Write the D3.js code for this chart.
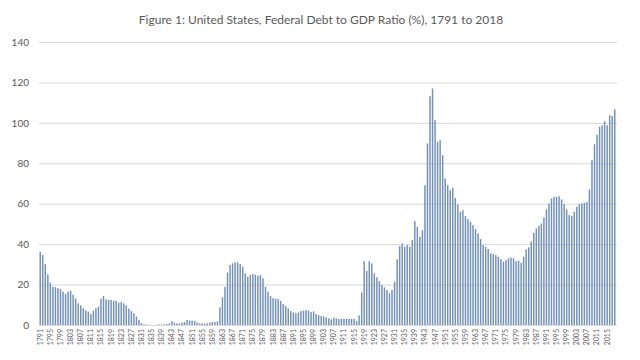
<!DOCTYPE html>
<html>
<head>
<meta charset="utf-8">
<script src="https://cdn.jsdelivr.net/npm/d3@7"></script>
<style>
  html, body { margin: 0; padding: 0; background: #ffffff; }
  svg { display: block; }
</style>
</head>
<body>
<svg id="chart" width="640" height="360"></svg>
<script>
const titleText = "Figure 1: United States, Federal Debt to GDP Ratio (%), 1791 to 2018";
const startYear = 1791;
const endYear = 2018;
const years = d3.range(startYear, endYear + 1);
const tickYears = d3.range(1791, 2019, 4);
const yTicks = [0, 20, 40, 60, 80, 100, 120, 140];

// Debt to GDP ratio (%) by year, 1791..2018
const debtRatio = [
  36.2, 34.6, 30.1, 25.0, 20.9, 18.8, 18.7, 18.2, 17.7, 16.5,
  15.4, 16.5, 17.0, 15.0, 13.1, 10.7, 9.7, 8.3, 7.3, 6.6,
  5.4, 7.1, 8.3, 9.1, 13.0, 14.3, 12.7, 12.4, 12.4, 12.0,
  12.0, 11.0, 11.4, 10.7, 9.7, 8.1, 6.9, 5.8, 4.2, 2.5,
  1.0, 0.3, 0.2, 0.1,
  0.0, 0.0, 0.1, 0.3, 0.3, 0.3, 0.5, 0.8, 2.0, 1.2,
  0.8, 0.8, 1.2, 1.5, 2.5, 2.2, 2.2, 2.0, 1.2, 0.8,
  0.8, 0.6, 0.8, 1.2, 1.5, 1.5, 1.8,
  8.7, 13.7, 18.9, 26.0, 29.7, 30.5, 31.0, 31.0, 30.2, 28.8,
  25.5, 23.9, 24.9, 25.2, 24.9, 24.4, 24.7, 23.1,
  18.9, 16.5, 14.3, 13.2, 13.0, 12.8, 11.9, 10.4, 9.4, 8.2,
  6.9, 6.1, 5.8, 6.3, 6.9, 7.1, 7.4, 7.1, 6.4, 6.7,
  5.4, 4.9, 4.4, 4.3, 3.8, 3.3, 2.8, 3.6, 3.3, 3.0,
  3.0, 3.0, 3.0, 3.0, 3.0, 3.0, 2.0, 4.8,
  16.1, 31.6, 26.7, 31.6, 30.5, 25.5, 23.6, 21.7, 19.8, 18.6,
  17.3, 15.7, 17.3, 21.4, 32.5, 39.0, 40.3, 38.7, 39.5, 38.7,
  42.0, 51.4, 48.6, 43.6, 46.9, 69.2, 89.8, 113.2,
  117.0, 101.3, 90.6, 91.4, 84.0, 72.5, 69.2, 66.7, 67.9, 62.9,
  59.6, 56.0, 56.8, 53.9, 52.4, 51.1, 49.4, 47.4, 45.3, 42.5,
  39.5, 38.7, 37.6, 35.4, 35.1, 34.6,
  33.8, 32.6, 31.3, 32.1, 33.0, 33.4, 33.0, 31.6, 31.8, 30.8,
  33.8, 37.4, 38.4, 41.3, 45.6, 47.8, 49.1, 50.2, 53.2, 57.2,
  60.1, 62.6, 63.4, 63.4, 63.7, 62.1, 59.8, 57.2, 54.4, 53.9,
  56.0, 58.5, 59.8, 60.1, 60.5, 60.9, 67.1, 81.5, 89.4, 94.1,
  98.0, 98.8, 100.8, 98.8, 103.8, 103.4, 106.7
];

const data = years.map((yr, i) => ({ year: yr, value: debtRatio[i] }));

const svg = d3.select("#chart");
const margin = { left: 39, right: 24, top: 42, bottom: 35 };
const W = 640, H = 360;

const x = d3.scaleBand()
  .domain(years)
  .range([margin.left, W - margin.right])
  .paddingInner(0.42)
  .paddingOuter(0.2);

const y = d3.scaleLinear()
  .domain([0, 140])
  .range([H - margin.bottom, margin.top]);

const fontFam = "Lato, 'Open Sans', sans-serif";
const textCol = "#595959";

// Title
svg.append("text")
  .attr("x", 321)
  .attr("y", 24)
  .attr("text-anchor", "middle")
  .attr("font-family", fontFam)
  .attr("font-size", 12)
  .attr("fill", textCol)
  .text(titleText);

// Gridlines + y labels via axis
const yAxis = d3.axisLeft(y)
  .tickValues(yTicks)
  .tickSize(-(W - margin.right - margin.left + 1))
  .tickPadding(10)
  .tickFormat(d3.format("d"));

const gy = svg.append("g")
  .attr("transform", `translate(${margin.left},0)`)
  .call(yAxis);
gy.select(".domain").remove();
gy.selectAll(".tick line")
  .attr("stroke", "#d9d9d9")
  .attr("stroke-width", 1);
gy.selectAll(".tick text")
  .attr("font-family", fontFam)
  .attr("font-size", 10)
  .attr("fill", textCol);

// Bars
svg.append("g")
  .selectAll("rect")
  .data(data)
  .join("rect")
  .attr("x", d => x(d.year))
  .attr("width", x.bandwidth())
  .attr("y", d => y(d.value))
  .attr("height", d => y(0) - y(d.value))
  .attr("fill", "#7391b8");

// X axis labels
const xAxis = d3.axisBottom(x)
  .tickValues(tickYears)
  .tickSize(0)
  .tickPadding(0);

const gx = svg.append("g")
  .attr("transform", `translate(0,${y(0)})`)
  .call(xAxis);
gx.select(".domain").remove();
gx.selectAll(".tick text")
  .attr("font-family", fontFam)
  .attr("font-size", 7)
  .attr("fill", textCol)
  .attr("transform", "rotate(-90)")
  .attr("text-anchor", "end")
  .attr("x", -4)
  .attr("y", 0)
  .attr("dy", "0.35em");
</script>
</body>
</html>
